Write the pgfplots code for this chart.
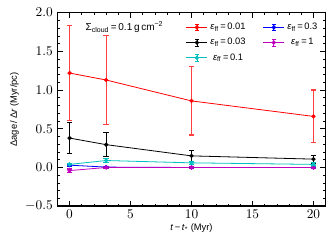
\documentclass[border=0pt]{standalone}
\usepackage{fontspec}
\setmainfont{Liberation Sans}
\usepackage{pgfplots}
\pgfplotsset{compat=1.18}
\usetikzlibrary{calc}
\definecolor{mcyan}{rgb}{0,0.75,0.75}
\definecolor{mmag}{rgb}{0.75,0,0.75}
\definecolor{ebred}{rgb}{1,0.25,0.25}
\begin{document}
\begin{tikzpicture}
\begin{axis}[
  name=ax,
  scale only axis,
  width=201pt, height=145pt,
  xmin=-1, xmax=21, ymin=-0.5, ymax=2.0,
  xtick={0,5,10,15,20}, ytick={-0.5,0,0.5,1.0,1.5,2.0},
  minor x tick num=4, minor y tick num=4,
  yticklabel style={/pgf/number format/fixed,/pgf/number format/fixed zerofill,/pgf/number format/precision=1},
  tick align=inside, xtick pos=both, ytick pos=both,
  major tick length=4pt, minor tick length=2pt,
  every tick/.style={black, line width=0.5pt},
  axis line style={line width=1.2pt},
  tick label style={font=\fontsize{10}{11}\selectfont},
  xticklabel style={yshift=1pt},
  label style={font=\fontsize{7}{8}\selectfont},
  xlabel={\textit{t}\,−\,\textit{t}\textsubscript{*} (Myr)},
  ylabel={Δage\,/\,Δ\textit{r} (Myr/pc)},
  xlabel style={yshift=3pt},
  ylabel style={yshift=-2pt},
  legend columns=2,
  legend style={at={(0.995,0.975)}, anchor=north east, draw=none, fill=none,
    font=\fontsize{7}{8}\selectfont, row sep=1pt,
    /tikz/every even column/.append style={column sep=11pt}},
  legend image code/.code={
    \draw[#1] (0cm,0cm) -- (0.55cm,0cm);
    \draw[#1,mark=none] (0.275cm,-0.09cm) -- (0.275cm,0.09cm) (0.23cm,-0.09cm)--(0.32cm,-0.09cm) (0.23cm,0.09cm)--(0.32cm,0.09cm);
    \draw[#1] plot coordinates {(0.275cm,0cm)};
  },
  every axis plot/.append style={line width=0.6pt, mark=*, mark size=1.3pt},
  error bars/error mark options={rotate=90, mark size=2pt, line width=0.9pt},
]
\addplot[red, error bars/.cd, y dir=both, y explicit, error bar style={draw=ebred, line width=0.9pt}, error mark options={draw=ebred, rotate=90, mark size=2pt, line width=0.9pt}] coordinates {
  (0,1.22) +- (0,0.61)
  (3,1.13) +- (0,0.57)
  (10,0.86) +- (0,0.44)
  (20,0.66) +- (0,0.34)
};
\addlegendentry{\textit{ε}\textsubscript{ff}\,=\,0.01}
\addplot[blue, error bars/.cd, y dir=both, y explicit, error bar style={draw=blue, line width=0.9pt}] coordinates {
  (0,0.03) +- (0,0.01)
  (3,0.005) +- (0,0.005)
  (10,0.0) +- (0,0.005)
  (20,0.0) +- (0,0.005)
};
\addlegendentry{\textit{ε}\textsubscript{ff}\,=\,0.3}
\addplot[black, error bars/.cd, y dir=both, y explicit, error bar style={draw=black, line width=0.9pt}] coordinates {
  (0,0.38) +- (0,0.2)
  (3,0.295) +- (0,0.155)
  (10,0.15) +- (0,0.07)
  (20,0.108) +- (0,0.05)
};
\addlegendentry{\textit{ε}\textsubscript{ff}\,=\,0.03}
\addplot[mmag, error bars/.cd, y dir=both, y explicit, error bar style={draw=mmag, line width=0.9pt}] coordinates {
  (0,-0.04) +- (0,0.02)
  (3,0.0) +- (0,0.01)
  (10,0.0) +- (0,0.01)
  (20,0.0) +- (0,0.01)
};
\addlegendentry{\textit{ε}\textsubscript{ff}\,=\,1}
\addplot[mcyan, error bars/.cd, y dir=both, y explicit, error bar style={draw=mcyan, line width=0.9pt}] coordinates {
  (0,0.04) +- (0,0.015)
  (3,0.09) +- (0,0.03)
  (10,0.06) +- (0,0.02)
  (20,0.04) +- (0,0.02)
};
\addlegendentry{\textit{ε}\textsubscript{ff}\,=\,0.1}
\node[font=\fontsize{7.5}{8}\selectfont] at (rel axis cs:0.25,0.925) {Σ\textsubscript{cloud}\,=\,0.1\,g\,cm\textsuperscript{−2}};
\end{axis}
\pgfresetboundingbox
\path ($(ax.south west)+(-43pt,-28.5pt)$) rectangle ($(ax.north east)+(5.5pt,9.5pt)$);
\end{tikzpicture}
\end{document}
